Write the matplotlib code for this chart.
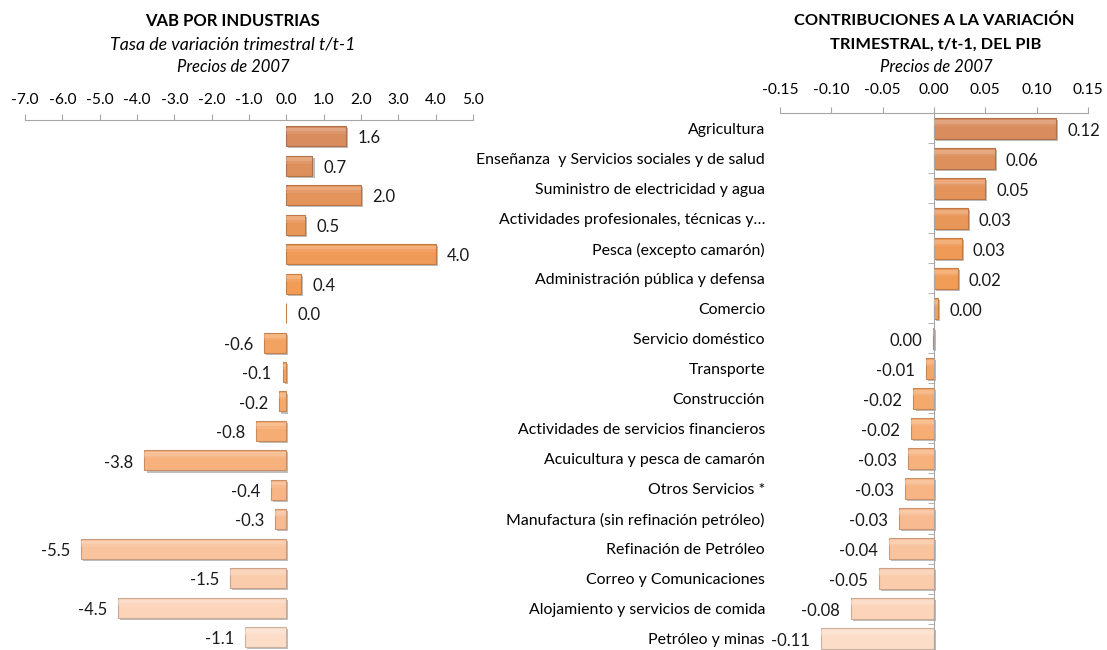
import numpy as np
import matplotlib.pyplot as plt
import matplotlib.patheffects as pe
from matplotlib.colors import LinearSegmentedColormap, to_rgb

plt.rcParams['font.family'] = ['Lato', 'DejaVu Sans']

# datos
vab = [1.6, 0.7, 2.0, 0.5, 4.0, 0.4, 0.0, -0.6, -0.1, -0.2, -0.8, -3.8,
       -0.4, -0.3, -5.5, -1.5, -4.5, -1.1]
vab_ticks = [-7, -6, -5, -4, -3, -2, -1, 0, 1, 2, 3, 4, 5]

sectores = [
    "Agricultura",
    "Enseñanza  y Servicios sociales y de salud",
    "Suministro de electricidad y agua",
    "Actividades profesionales, técnicas y…",
    "Pesca (excepto camarón)",
    "Administración pública y defensa",
    "Comercio",
    "Servicio doméstico",
    "Transporte",
    "Construcción",
    "Actividades de servicios financieros",
    "Acuicultura y pesca de camarón",
    "Otros Servicios *",
    "Manufactura (sin refinación petróleo)",
    "Refinación de Petróleo",
    "Correo y Comunicaciones",
    "Alojamiento y servicios de comida",
    "Petróleo y minas",
]
contrib = [0.119, 0.059, 0.050, 0.033, 0.027, 0.023, 0.004, -0.001, -0.008,
           -0.020, -0.022, -0.025, -0.028, -0.034, -0.044, -0.054, -0.081, -0.110]
contrib_ticks = [-0.15, -0.10, -0.05, 0.0, 0.05, 0.10, 0.15]

W, H = 1107, 650
fig = plt.figure(figsize=(W / 100, H / 100), dpi=100)


def rect(x0, x1, y0, y1):
    return [x0 / W, 1 - y1 / H, (x1 - x0) / W, (y1 - y0) / H]


ax1 = fig.add_axes(rect(25, 473, 120, 652))
ax2 = fig.add_axes(rect(780, 1088, 113.5, 653.5))

cmap = LinearSegmentedColormap.from_list(
    "naranja", ["#D98C5E", "#F09B55", "#F5A767", "#F8B88C", "#FCDDC8"])
gris = "#A6A6A6"
sombra = [pe.withSimplePatchShadow(offset=(1.5, -1.5), shadow_rgbFace="#7F7F7F", alpha=0.5)]


def mezcla(c, f):
    c = np.array(to_rgb(c))
    return tuple(c + (1 - c) * f) if f > 0 else tuple(c * (1 + f))


def barras(ax, vals, fmt, gap):
    n = len(vals)
    y = np.arange(n)
    cols = [cmap(i / (n - 1)) for i in range(n)]
    bordes = [mezcla(c, -0.2) for c in cols]
    ax.barh(y, vals, height=0.68, color=cols, edgecolor=bordes, linewidth=0.8,
            path_effects=sombra, zorder=2)
    # brillo suave en la parte superior
    ax.barh(y - 0.22, vals, height=0.12, color=[mezcla(c, 0.4) for c in cols],
            linewidth=0, alpha=0.55, zorder=3)
    ax.barh(y - 0.12, vals, height=0.1, color=[mezcla(c, 0.2) for c in cols],
            linewidth=0, alpha=0.4, zorder=3)
    for i, v in enumerate(vals):
        ax.annotate(fmt(v), (v, i), xytext=(gap if v >= 0 else -gap, -1.5),
                    textcoords="offset points", ha="left" if v >= 0 else "right",
                    va="center", fontsize=12, color="#1A1A1A")


# panel izquierdo
barras(ax1, vab, lambda v: f"{v:.1f}", 8)
ax1.set_xlim(-7, 5)
ax1.set_ylim(len(vab) - 0.5, -0.55)
ax1.xaxis.tick_top()
ax1.set_xticks(vab_ticks)
ax1.set_xticklabels([f"{t:.1f}" for t in vab_ticks])
ax1.tick_params(axis="x", length=4, color=gris, labelsize=11.2, pad=5)
ax1.set_yticks([])
for s in ["left", "right", "bottom"]:
    ax1.spines[s].set_visible(False)
ax1.spines["top"].set_color(gris)
ax1.patch.set_alpha(0)


# panel derecho
def fmt2(v):
    return "0.00" if round(v, 2) == 0 else f"{v:.2f}"


barras(ax2, contrib, fmt2, 8)
ax2.set_xlim(-0.15, 0.15)
ax2.set_ylim(len(contrib) - 0.5, -0.5)
ax2.xaxis.tick_top()
ax2.set_xticks(contrib_ticks)
ax2.set_xticklabels([f"{t:.2f}" for t in contrib_ticks])
ax2.tick_params(axis="x", length=4, color=gris, labelsize=11.2, pad=8)
ax2.spines["left"].set_position(("data", 0))
ax2.spines["left"].set_color(gris)
ax2.spines["top"].set_color(gris)
for s in ["right", "bottom"]:
    ax2.spines[s].set_visible(False)
ax2.set_yticks(np.arange(len(sectores)))
ax2.set_yticklabels(sectores)
ax2.set_yticks(np.arange(len(sectores) + 1) - 0.5, minor=True)
ax2.tick_params(axis="y", which="major", length=0, pad=121.7, labelsize=11.4)
ax2.tick_params(axis="y", which="minor", length=4, color=gris)
ax2.patch.set_alpha(0)

# titulos
fig.text(232 / W, 1 - 21 / H, "VAB POR INDUSTRIAS", ha="center", va="center",
         fontsize=12, fontweight="bold")
fig.text(233 / W, 1 - 45 / H, "Tasa de variación trimestral t/t-1", ha="center",
         va="center", fontsize=12.8, style="italic")
fig.text(233 / W, 1 - 67 / H, "Precios de 2007", ha="center", va="center",
         fontsize=12, style="italic")
fig.text(934 / W, 1 - 21 / H, "CONTRIBUCIONES A LA VARIACIÓN", ha="center",
         va="center", fontsize=11.8, fontweight="bold")
fig.text(936 / W, 1 - 45 / H, "TRIMESTRAL, t/t-1, DEL PIB", ha="center",
         va="center", fontsize=11.8, fontweight="bold")
fig.text(936 / W, 1 - 67 / H, "Precios de 2007", ha="center", va="center",
         fontsize=12, style="italic")

fig.savefig("out.png", dpi=100)
